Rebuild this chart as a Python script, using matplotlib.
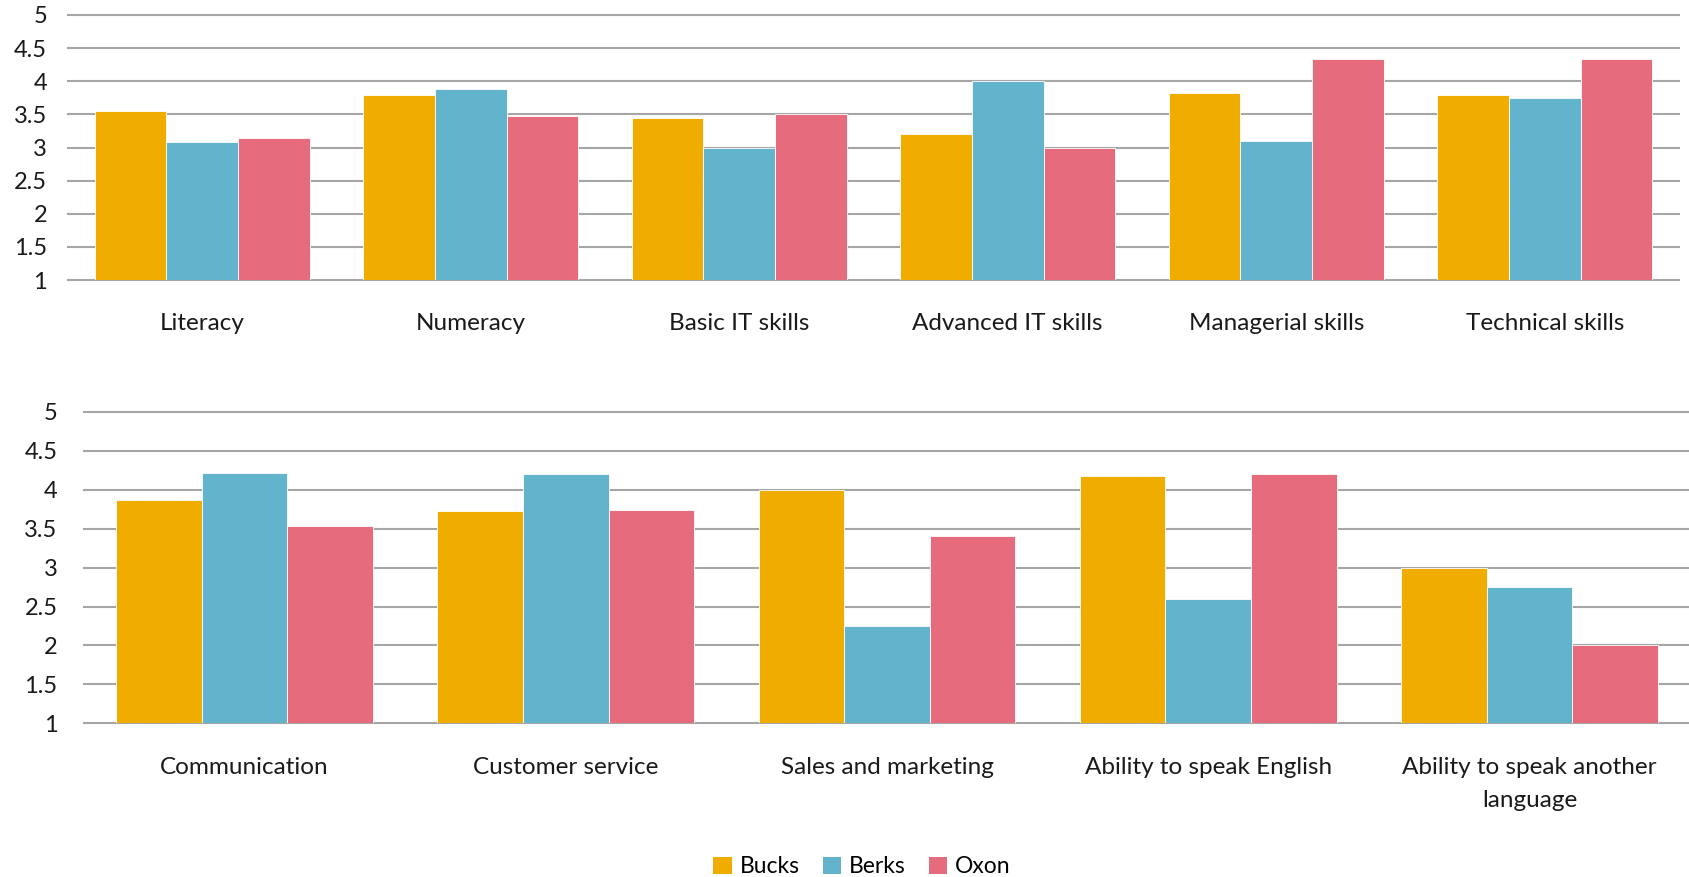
import numpy as np
import matplotlib
matplotlib.use("Agg")
import matplotlib.pyplot as plt
from matplotlib.patches import Patch

plt.rcParams['font.family'] = ['Lato', 'DejaVu Sans']

# Series names and colours
series = ["Bucks", "Berks", "Oxon"]
colors = ["#F0AD00", "#62B3CC", "#E66C7D"]

# Top panel
top_categories = ["Literacy", "Numeracy", "Basic IT skills", "Advanced IT skills",
                  "Managerial skills", "Technical skills"]
top_bucks = [3.55, 3.80, 3.44, 3.20, 3.83, 3.79]
top_berks = [3.08, 3.88, 3.00, 4.00, 3.10, 3.75]
top_oxon = [3.15, 3.47, 3.50, 3.00, 4.33, 4.33]

# Bottom panel
bottom_categories = ["Communication", "Customer service", "Sales and marketing",
                     "Ability to speak English", "Ability to speak another\nlanguage"]
bottom_bucks = [3.87, 3.73, 4.00, 4.17, 3.00]
bottom_berks = [4.22, 4.20, 2.25, 2.60, 2.75]
bottom_oxon = [3.53, 3.74, 3.40, 4.20, 2.00]

yticks = [1, 1.5, 2, 2.5, 3, 3.5, 4, 4.5, 5]
ytick_labels = ["1", "1.5", "2", "2.5", "3", "3.5", "4", "4.5", "5"]

fig = plt.figure(figsize=(16.9, 8.77), dpi=100)
ax_top = fig.add_axes([0.0402, 0.6807, 0.9533, 0.3022])
ax_bot = fig.add_axes([0.0497, 0.1752, 0.9503, 0.3553])


def draw_panel(ax, categories, values, ypad):
    x = np.arange(len(categories))
    width = 0.8 / 3
    for i, (vals, col) in enumerate(zip(values, colors)):
        ax.bar(x + (i - 1) * width, np.array(vals) - 1, width, bottom=1,
               color=col, edgecolor="white", linewidth=0.6, zorder=3)
    ax.set_xlim(-0.5, len(categories) - 0.5)
    ax.set_ylim(1, 5)
    ax.set_yticks(yticks)
    ax.set_yticklabels(ytick_labels)
    for y in yticks:
        ax.axhline(y, color="#A6A6A6", linewidth=1.5, zorder=1, clip_on=False)
    ax.set_xticks(x)
    ax.set_xticklabels(categories, linespacing=1.7)
    for s in ax.spines.values():
        s.set_visible(False)
    ax.tick_params(axis="x", length=0, pad=24, labelsize=17.5, colors="#1a1a1a")
    ax.tick_params(axis="y", length=0, pad=ypad, labelsize=17, colors="#1a1a1a")


draw_panel(ax_top, top_categories, [top_bucks, top_berks, top_oxon], 15)
draw_panel(ax_bot, bottom_categories, [bottom_bucks, bottom_berks, bottom_oxon], 19)

handles = [Patch(facecolor=c, edgecolor="none") for c in colors]
fig.legend(handles, series, loc="center", bbox_to_anchor=(0.51, 0.0115),
           ncol=3, frameon=False, fontsize=16.5, handlelength=0.8, handleheight=0.8,
           handletextpad=0.35, columnspacing=1.0)

fig.savefig("out.png", dpi=100)
